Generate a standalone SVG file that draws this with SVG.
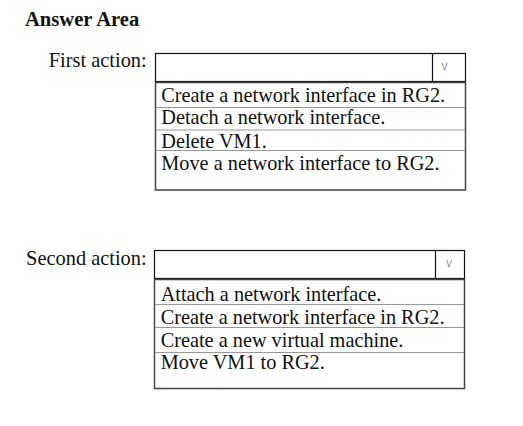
<svg xmlns="http://www.w3.org/2000/svg" width="523" height="426" viewBox="0 0 523 426">
<style>
.t{font-family:"Liberation Serif","Times New Roman",serif;fill:#111;}
.lbl{font-size:20.4px;}
.opt{font-size:20.3px;}
.box{fill:#fff;stroke:#111;stroke-width:1.2;}
.list{fill:#fff;stroke:#444;stroke-width:1.5;}
.sep{stroke:#999;stroke-width:1;}
.chev{font-family:"DejaVu Sans",sans-serif;font-size:12px;fill:#333;font-weight:200;}
</style>
<rect width="523" height="426" fill="#fff"/>
<text class="t" x="25" y="25.5" font-size="20.6" font-weight="bold">Answer Area</text>
<g id="first">
<text class="t lbl" x="146.7" y="66.5" text-anchor="end">First action:</text>
<rect class="box" x="155.5" y="53.5" width="310" height="28"/>
<line x1="432.5" y1="53.5" x2="432.5" y2="81.5" stroke="#111" stroke-width="1.2"/>
<text class="chev" x="444.5" y="70" text-anchor="middle">v</text>
<rect class="list" x="155.5" y="82.5" width="310" height="107.5"/>
<line class="sep" x1="156" y1="107.5" x2="465" y2="107.5"/>
<line class="sep" x1="156" y1="130" x2="465" y2="130"/>
<line class="sep" x1="156" y1="150.5" x2="465" y2="150.5"/>
<text class="t opt" x="161.3" y="101.7">Create a network interface in RG2.</text>
<text class="t opt" x="161.3" y="124">Detach a network interface.</text>
<text class="t opt" x="161.3" y="147.5">Delete VM1.</text>
<text class="t opt" x="161.3" y="170">Move a network interface to RG2.</text>
</g>
<g id="second">
<text class="t lbl" x="146.7" y="265" text-anchor="end">Second action:</text>
<rect class="box" x="154.5" y="250.5" width="310" height="28"/>
<line x1="435.5" y1="250.5" x2="435.5" y2="278.5" stroke="#111" stroke-width="1.2"/>
<text class="chev" x="449" y="267" text-anchor="middle">v</text>
<rect class="list" x="154.5" y="279.5" width="310" height="109"/>
<line class="sep" x1="155" y1="304.5" x2="464" y2="304.5"/>
<line class="sep" x1="155" y1="327.5" x2="464" y2="327.5"/>
<line class="sep" x1="155" y1="352.5" x2="464" y2="352.5"/>
<text class="t opt" x="160.7" y="300.7">Attach a network interface.</text>
<text class="t opt" x="160.7" y="324">Create a network interface in RG2.</text>
<text class="t opt" x="160.7" y="346.7">Create a new virtual machine.</text>
<text class="t opt" x="160.7" y="369.3">Move VM1 to RG2.</text>
</g>
</svg>
